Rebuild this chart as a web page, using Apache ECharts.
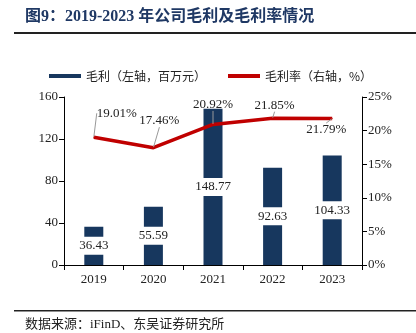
<!DOCTYPE html>
<html><head><meta charset="utf-8">
<script src="https://cdn.jsdelivr.net/npm/echarts@6/dist/echarts.min.js"></script>
<style>html,body{margin:0;padding:0;background:#fff}#c{width:416px;height:333px}</style>
</head><body><div id="c"></div>
<script>
const categories = ['2019','2020','2021','2022','2023'];
const grossProfit = [36.43, 55.59, 148.77, 92.63, 104.33];
const grossMargin = [19.01, 17.46, 20.92, 21.85, 21.79];
const leftTicks = [0, 40, 80, 120, 160];
const rightTicks = [0, 5, 10, 15, 20, 25];

const serif = '"Liberation Serif","Times New Roman","Noto Sans CJK SC",serif';
const cjk = '"Noto Sans CJK SC",sans-serif';
const chart = echarts.init(document.getElementById('c'), null, {renderer:'canvas'});
const labelShift = [[23,-11],[6,-14],[0,-7],[2,0],[-6,24]];
chart.setOption({
  animation:false,
  backgroundColor:'#fff',
  graphic:[
    {type:'text', left:25, top:9, style:{text:'图9：2019-2023 年公司毛利及毛利率情况', font:'bold 16px "Liberation Serif","Noto Sans CJK SC",serif', fill:'#1F3864'}},
    {type:'rect', shape:{x:14,y:32,width:402,height:2}, style:{fill:'#222'}},
    {type:'rect', shape:{x:14,y:310,width:402,height:1.5}, style:{fill:'#222'}},
    {type:'text', left:25, top:318, style:{text:'数据来源：iFinD、东吴证券研究所', font:'13px "Liberation Serif","Noto Sans CJK SC",serif', fill:'#222'}}
  ],
  legend:{
    top:65, left:44, itemGap:22,
    textStyle:{fontFamily:cjk, fontSize:12, color:'#222'},
    data:[
      {name:'毛利（左轴，百万元）', icon:'rect', itemStyle:{color:'#17375E'}},
      {name:'毛利率（右轴，%）', icon:'rect', itemStyle:{color:'#C00000'}}
    ],
    itemWidth:32, itemHeight:4
  },
  grid:{left:64, right:54, top:97, bottom:68},
  xAxis:{type:'category', data:categories, boundaryGap:true,
    axisLine:{lineStyle:{color:'#000'}},
    axisTick:{show:true, alignWithLabel:false, lineStyle:{color:'#000'}},
    axisLabel:{fontFamily:serif, fontSize:13, color:'#222', margin:8}},
  yAxis:[
    {type:'value', min:leftTicks[0], max:leftTicks[leftTicks.length-1], interval:40,
     axisLine:{show:true, lineStyle:{color:'#000'}}, axisTick:{show:true, lineStyle:{color:'#000'}},
     splitLine:{show:false}, axisLabel:{fontFamily:serif, fontSize:13, color:'#222', margin:6}},
    {type:'value', min:rightTicks[0], max:rightTicks[rightTicks.length-1], interval:5,
     axisLine:{show:true, lineStyle:{color:'#000'}}, axisTick:{show:true, lineStyle:{color:'#000'}},
     splitLine:{show:false}, axisLabel:{fontFamily:serif, fontSize:13, color:'#222', margin:6, formatter:'{value}%'}}
  ],
  series:[
    {name:'毛利（左轴，百万元）', type:'bar', data:grossProfit, barWidth:19, yAxisIndex:0,
     itemStyle:{color:'#17375E'},
     label:{show:true, position:'inside', fontFamily:serif, fontSize:13, color:'#222',
       backgroundColor:'#fff', padding:[3,2,2,2], formatter:p=>p.value.toFixed(2)}},
    {name:'毛利率（右轴，%）', type:'line', data:grossMargin, yAxisIndex:1,
     symbol:'circle', symbolSize:1, showSymbol:true,
     lineStyle:{color:'#C00000', width:3.5}, itemStyle:{color:'#C00000'},
     label:{show:true, position:'top', distance:6, fontFamily:serif, fontSize:13, color:'#222',
       formatter:p=>p.value.toFixed(2)+'%'},
     labelLine:{show:true, lineStyle:{color:'#999', width:1}},
     labelLayout:function(params){
       const s = labelShift[params.dataIndex];
       return {dx:s[0], dy:s[1]};
     }}
  ]
});
</script></body></html>
